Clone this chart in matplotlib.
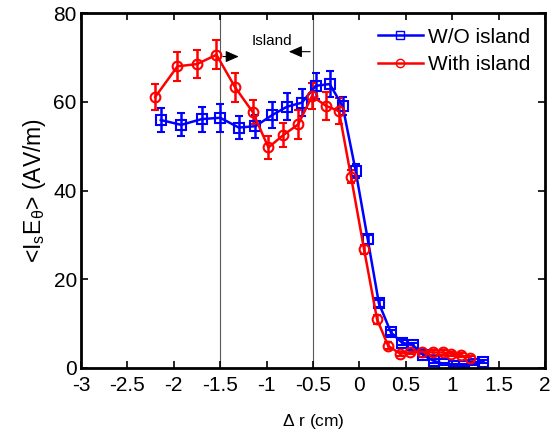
import numpy as np
import matplotlib
matplotlib.use('Agg')
import matplotlib.pyplot as plt
from matplotlib.lines import Line2D

plt.rcParams['font.family'] = ['Liberation Sans', 'DejaVu Sans']
plt.rcParams['mathtext.fontset'] = 'custom'
plt.rcParams['mathtext.rm'] = 'Liberation Sans'
plt.rcParams['mathtext.it'] = 'Liberation Sans'

# W/O island
blue_x = [-2.14, -1.92, -1.70, -1.50, -1.30, -1.12, -0.94, -0.78, -0.62, -0.47, -0.32, -0.18, -0.04,
          0.09, 0.21, 0.34, 0.46, 0.58, 0.69, 0.80, 0.91, 1.02, 1.13, 1.23, 1.33]
blue_y = [55.9, 54.8, 56.1, 56.4, 54.2, 54.5, 57.0, 58.9, 59.8, 63.6, 64.0, 59.0, 44.4,
          29.0, 14.6, 8.0, 5.7, 5.1, 2.9, 1.6, 0.9, 0.5, 0.5, 1.0, 1.4]
blue_err = [2.8, 2.6, 2.8, 3.2, 2.6, 2.6, 3.0, 3.0, 3.0, 3.0, 3.0, 2.0, 1.5,
            1.0, 0.8, 0.6, 0.5, 0.5, 0.4, 0.4, 0.3, 0.3, 0.3, 0.3, 0.3]

# With island
red_x = [-2.20, -1.96, -1.75, -1.54, -1.34, -1.15, -0.98, -0.82, -0.66, -0.51, -0.36, -0.22, -0.09,
         0.05, 0.19, 0.31, 0.44, 0.55, 0.67, 0.79, 0.90, 0.99, 1.09, 1.19]
red_y = [61.1, 68.0, 68.5, 70.6, 63.3, 57.7, 49.7, 52.5, 54.9, 61.3, 59.1, 57.9, 43.1,
         26.8, 11.0, 5.0, 3.2, 3.6, 3.7, 3.5, 3.5, 3.2, 2.9, 2.3]
red_err = [3.0, 3.2, 3.2, 3.3, 3.3, 2.8, 2.5, 2.8, 3.3, 3.0, 3.2, 3.0, 1.5,
           1.0, 1.0, 0.8, 0.5, 0.5, 0.5, 0.5, 0.5, 0.5, 0.5, 0.5]

island_edges = [-1.5, -0.5]
xtick_labels = ['-3', '-2.5', '-2', '-1.5', '-1', '-0.5', '0', '0.5', '1', '1.5', '2']

fig = plt.figure(figsize=(5.52, 4.36), dpi=100)
ax = fig.add_axes([0.1467, 0.156, 0.8406, 0.814])

for xe in island_edges:
    ax.axvline(xe, color='0.35', lw=0.8, zorder=0)

ax.errorbar(blue_x, blue_y, yerr=blue_err, color='#0000ff', marker='s', ms=6.5, mfc='none',
            mew=1.5, lw=1.8, capsize=3, elinewidth=1.8, capthick=1.5)
ax.errorbar(red_x, red_y, yerr=red_err, color='#ff0000', marker='o', ms=7, mfc='none',
            mew=1.5, lw=1.8, capsize=3, elinewidth=1.8, capthick=1.5)

# island arrows
ax.annotate('', xy=(-1.27, 70.2), xytext=(-1.5, 70.2),
            arrowprops=dict(arrowstyle='-|>,head_length=0.8,head_width=0.35', color='k', lw=0.8))
ax.annotate('', xy=(-0.79, 71.3), xytext=(-0.5, 71.3),
            arrowprops=dict(arrowstyle='-|>,head_length=0.8,head_width=0.35', color='k', lw=0.8))
ax.text(-0.94, 73.6, 'Island', fontsize=11, ha='center', va='center')

ax.set_xlim(-3, 2)
ax.set_ylim(0, 80)
ax.set_xticks(np.arange(-3, 2.01, 0.5))
ax.set_xticklabels(xtick_labels)
ax.set_yticks([0, 20, 40, 60, 80])
ax.tick_params(direction='in', top=True, right=True, labelsize=15, length=5, width=1.2)
ax.tick_params(axis='x', pad=6)
ax.tick_params(axis='y', pad=3)
for s in ax.spines.values():
    s.set_linewidth(2)

ax.set_xlabel(r'$\Delta$ r (cm)', fontsize=12.5, labelpad=12)
ax.set_ylabel(r'<I$_\mathrm{s}$E$_\mathrm{\theta}$> (AV/m)', fontsize=16.5, labelpad=4)

handles = [Line2D([], [], color='#0000ff', marker='s', ms=6, mfc='none', lw=1.8),
           Line2D([], [], color='#ff0000', marker='o', ms=6, mfc='none', lw=1.8)]
ax.legend(handles, ['W/O island', 'With island'], loc='upper right', fontsize=15,
          frameon=False, handlelength=2.15, borderaxespad=0.3, labelspacing=0.4,
          handletextpad=0.25)

fig.savefig('out.png', dpi=100)
